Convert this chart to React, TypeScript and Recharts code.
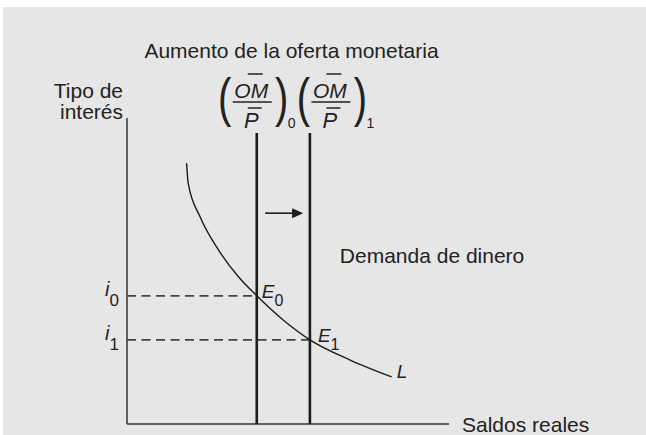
import React from 'react';
import {
  ComposedChart,
  Line,
  XAxis,
  YAxis,
  ReferenceLine,
  ReferenceDot,
  Customized,
} from 'recharts';

// ---- Data (abstract units) ----
const demandX = [18.5, 19.0, 22.7, 28.4, 34.6, 40.3, 48.5, 56.8, 69.3, 82.2];
const demandY = [85.2, 78.7, 67.7, 56.9, 48.1, 41.9, 34.0, 27.5, 20.9, 15.4];
const supplyX = [40.3, 56.8];
const supplyTop = 95.1;
const interestY = [41.9, 27.5];
const subscripts = ['0', '1'];
const arrowX = [42.9, 54.7];
const arrowY = 68.9;
const demandLabelPos = [66.1, 52.6];
const axisMax = [100, 100];

const titleText = 'Aumento de la oferta monetaria';
const yAxisLabel = ['Tipo de', 'interés'];
const xAxisLabel = 'Saldos reales';
const demandLabel = 'Demanda de dinero';
const curveLabel = 'L';
const rateSymbol = 'i';
const eqSymbol = 'E';
const fracTop = 'OM';
const fracBottom = 'P';

const data = demandX.map((x, i) => ({ x, y: demandY[i] }));

// ---- Styles ----
const FONT = '"Liberation Sans", Arial, Helvetica, sans-serif';
const INK = '#222';
const fracOffsets = [-4.5, 21];
const eqOffsets = [5, 8];

const Paren = ({ x, y, ch }: { x: number; y: number; ch: string }) => (
  <text
    x={0}
    y={0}
    fontSize={40}
    textAnchor="middle"
    transform={`translate(${x},${y}) scale(1,1.32)`}
  >
    {ch}
  </text>
);

const FracLabel = ({ c, top, sub }: { c: number; top: number; sub: string }) => (
  <g fontFamily={FONT} fill={INK}>
    <Paren x={c - 27.5} y={top - 17} ch="(" />
    <Paren x={c + 29.5} y={top - 17} ch=")" />
    <text x={c - 1} y={top - 35} fontSize={21} fontStyle="italic" textAnchor="middle">
      {fracTop}
    </text>
    <line x1={c - 4.5} x2={c + 10.5} y1={top - 59} y2={top - 59} stroke={INK} strokeWidth={1.5} />
    <line x1={c - 19.5} x2={c + 19.5} y1={top - 31} y2={top - 31} stroke={INK} strokeWidth={1.5} />
    <line x1={c - 4.5} x2={c + 9.5} y1={top - 25} y2={top - 25} stroke={INK} strokeWidth={1.5} />
    <text x={c - 1} y={top - 5} fontSize={22} fontStyle="italic" textAnchor="middle">
      {fracBottom}
    </text>
    <text x={c + 39.5} y={top - 5} fontSize={14} textAnchor="middle">
      {sub}
    </text>
  </g>
);

export default function App() {
  return (
    <div
      style={{
        position: 'absolute',
        left: 0,
        top: 0,
        width: 646,
        height: 435,
        background: '#ffffff',
        overflow: 'hidden',
      }}
    >
      <div
        style={{
          position: 'absolute',
          left: 3,
          top: 7,
          width: 643,
          height: 428,
          background: '#e6e6e6',
        }}
      />
      <div style={{ position: 'absolute', left: 0, top: 0 }}>
        <ComposedChart
          width={646}
          height={435}
          data={data}
          margin={{ top: 118, right: 197, bottom: 11, left: 127 }}
        >
          <XAxis type="number" dataKey="x" domain={[0, axisMax[0]]} allowDataOverflow hide />
          <YAxis type="number" domain={[0, axisMax[1]]} allowDataOverflow hide />

          {/* axes */}
          <ReferenceLine
            segment={[
              { x: 0, y: 0 },
              { x: axisMax[0], y: 0 },
            ]}
            stroke="#333"
            strokeWidth={1.5}
            ifOverflow="visible"
          />
          <ReferenceLine
            segment={[
              { x: 0, y: 0 },
              { x: 0, y: axisMax[1] },
            ]}
            stroke="#333"
            strokeWidth={1.5}
            ifOverflow="visible"
          />

          {interestY.map((iy, k) => (
            <ReferenceLine
              key={`dash-${k}`}
              segment={[
                { x: 0, y: iy },
                { x: supplyX[k], y: iy },
              ]}
              stroke="#444"
              strokeWidth={1.7}
              strokeDasharray="9 5.5"
              ifOverflow="visible"
            />
          ))}

          {supplyX.map((sx, k) => (
            <ReferenceLine
              key={`supply-${k}`}
              segment={[
                { x: sx, y: 0 },
                { x: sx, y: supplyTop },
              ]}
              stroke="#1c1c1c"
              strokeWidth={2.6}
              ifOverflow="visible"
            />
          ))}

          <ReferenceLine
            segment={[
              { x: arrowX[0], y: arrowY },
              { x: arrowX[1], y: arrowY },
            ]}
            ifOverflow="visible"
            shape={(p: any) => (
              <g>
                <line
                  x1={p.x1}
                  y1={p.y1}
                  x2={p.x2 - 8}
                  y2={p.y2}
                  stroke="#1c1c1c"
                  strokeWidth={1.6}
                />
                <polygon
                  points={`${p.x2},${p.y2} ${p.x2 - 11},${p.y2 - 5} ${p.x2 - 11},${p.y2 + 5}`}
                  fill="#1c1c1c"
                />
              </g>
            )}
          />

          <Line
            type="monotone"
            dataKey="y"
            stroke="#1c1c1c"
            strokeWidth={1.4}
            dot={false}
            activeDot={false}
            isAnimationActive={false}
          />

          {/* axis titles */}
          <ReferenceDot
            x={axisMax[0]}
            y={0}
            r={1}
            ifOverflow="visible"
            shape={(p: any) => (
              <text x={p.cx + 13} y={p.cy + 8} fontFamily={FONT} fontSize={21} fill={INK}>
                {xAxisLabel}
              </text>
            )}
          />
          <ReferenceDot
            x={0}
            y={axisMax[1]}
            r={1}
            ifOverflow="visible"
            shape={(p: any) => (
              <g fontFamily={FONT} fontSize={21} fill={INK}>
                <text x={p.cx - 4} y={p.cy - 20} textAnchor="end">
                  {yAxisLabel[0]}
                </text>
                <text x={p.cx - 4} y={p.cy + 1} textAnchor="end">
                  {yAxisLabel[1]}
                </text>
              </g>
            )}
          />

          {supplyX.map((sx, k) => (
            <ReferenceDot
              key={`frac-${k}`}
              x={sx}
              y={supplyTop}
              r={1}
              ifOverflow="visible"
              shape={(p: any) => (
                <FracLabel c={p.cx + fracOffsets[k]} top={p.cy} sub={subscripts[k]} />
              )}
            />
          ))}

          {interestY.map((iy, k) => (
            <ReferenceDot
              key={`ilabel-${k}`}
              x={0}
              y={iy}
              r={1}
              ifOverflow="visible"
              shape={(p: any) => (
                <text
                  x={p.cx - 8}
                  y={p.cy}
                  textAnchor="end"
                  fontFamily={FONT}
                  fill={INK}
                >
                  <tspan fontSize={20} fontStyle="italic">
                    {rateSymbol}
                  </tspan>
                  <tspan fontSize={17} dy={10}>
                    {subscripts[k]}
                  </tspan>
                </text>
              )}
            />
          ))}

          {interestY.map((iy, k) => (
            <ReferenceDot
              key={`elabel-${k}`}
              x={supplyX[k]}
              y={iy}
              r={1}
              ifOverflow="visible"
              shape={(p: any) => (
                <text x={p.cx + eqOffsets[k]} y={p.cy + 2} fontFamily={FONT} fill={INK}>
                  <tspan fontSize={19} fontStyle="italic">
                    {eqSymbol}
                  </tspan>
                  <tspan fontSize={16} dy={8}>
                    {subscripts[k]}
                  </tspan>
                </text>
              )}
            />
          ))}

          <ReferenceDot
            x={demandX[demandX.length - 1]}
            y={demandY[demandY.length - 1]}
            r={1}
            ifOverflow="visible"
            shape={(p: any) => (
              <text
                x={p.cx + 5}
                y={p.cy + 1}
                fontFamily={FONT}
                fontSize={19}
                fontStyle="italic"
                fill={INK}
              >
                {curveLabel}
              </text>
            )}
          />

          <ReferenceDot
            x={demandLabelPos[0]}
            y={demandLabelPos[1]}
            r={1}
            ifOverflow="visible"
            shape={(p: any) => (
              <text x={p.cx} y={p.cy} fontFamily={FONT} fontSize={21} fill={INK}>
                {demandLabel}
              </text>
            )}
          />

          <Customized
            component={() => (
              <text
                x={291.5}
                y={58}
                textAnchor="middle"
                fontFamily={FONT}
                fontSize={21}
                fill={INK}
              >
                {titleText}
              </text>
            )}
          />
        </ComposedChart>
      </div>
    </div>
  );
}
